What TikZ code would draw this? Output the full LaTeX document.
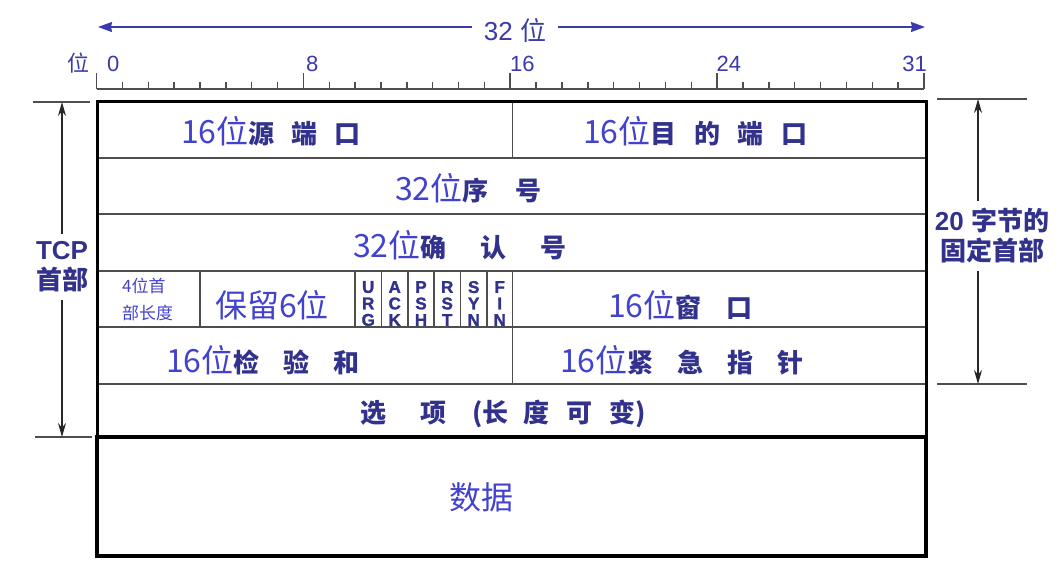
\documentclass[tikz,border=0pt]{standalone}
\usepackage{fontspec}
\setmainfont{Liberation Sans}
\newfontfamily\cjk{Noto Sans CJK SC}
\newfontfamily\heavyfont[FakeBold=1.6]{Liberation Sans Bold}
\usetikzlibrary{arrows.meta}
\definecolor{blu}{RGB}{66,66,206}
\definecolor{navy}{RGB}{50,50,140}
\definecolor{rul}{RGB}{58,58,168}
\definecolor{ln}{RGB}{78,78,78}
\newcommand\bcn[1]{{\cjk\bfseries\fontsize{26}{30}\selectfont\color{navy}#1}}
\begin{document}
\begin{tikzpicture}[x=1pt,y=-1pt,
  big/.style={font=\cjk\fontsize{32}{36}\selectfont, text=blu, inner sep=0pt, anchor=base west},
  small/.style={font=\cjk\fontsize{17}{20}\selectfont, text=blu, inner sep=0pt, anchor=base west},
  flag/.style={font=\heavyfont\fontsize{17}{16.5}\selectfont, text=navy, inner sep=0pt, align=center},
  rlab/.style={font=\fontsize{22}{24}\selectfont, text=rul, inner sep=0pt, anchor=base west},
  side/.style={font=\bfseries\fontsize{26}{30}\selectfont, text=navy, align=center, inner xsep=0pt},
  inner/.style={draw=ln, line width=1.8pt},
  frame/.style={draw=black, line width=3pt},
  dim/.style={draw=black!85, line width=1.4pt, -{Stealth[length=14pt,width=8pt]}},
  ext/.style={draw=ln, line width=1.4pt},
  topar/.style={draw=rul, line width=1.5pt, -{Stealth[length=14pt,width=10pt,inset=1pt]}}
]
\useasboundingbox (0,0) rectangle (1061,571);

% ---- top: 32 bit arrow ----
\node[font=\fontsize{26}{28}\selectfont, text=rul, inner sep=0pt] (w32) at (515,30) {32 {\cjk 位}};
\coordinate (al) at (98,27);
\coordinate (ar) at (925,27);
\draw[topar] (w32.west |- al) ++(-12,0) -- (al);
\draw[topar] (w32.east |- ar) ++(12,0) -- (ar);

% ---- ruler ----
\draw[ln, line width=1.6pt] (96.5,89) -- (924,89);
\foreach \i in {0,...,32}{
  \pgfmathsetmacro{\xx}{96.5+\i*25.86}
  \pgfmathtruncatemacro{\mm}{mod(\i,8)}
  \ifnum\mm=0
    \draw[ln, line width=1.6pt] (\xx,89) -- (\xx,73);
  \else
    \draw[ln, line width=1.4pt] (\xx,89) -- (\xx,81.5);
  \fi
}
\node[rlab] (b0) at (107,71) {0};
\node[rlab] (b8) at (306,71) {8};
\node[rlab] (b16) at (510,71) {16};
\node[rlab] (b24) at (716.5,71) {24};
\node[rlab, anchor=base east] (b31) at (927,71) {31};
\node[font=\cjk\fontsize{22}{24}\selectfont, text=rul, inner sep=0pt, anchor=base west] (wei) at (67,71) {位};

% ---- header inner lines ----
\foreach \yy in {158,214,271,327,384}{
  \draw[inner] (97,\yy) -- (926,\yy);
}
\draw[inner] (512.5,101) -- (512.5,158);
\draw[inner] (512.5,327) -- (512.5,384);
\foreach \xx in {200,355,381.5,408,434,460.5,487,512.5}{
  \draw[inner] (\xx,271) -- (\xx,327);
}
% frames
\draw[frame] (97,437) -- (97,101) -- (926,101) -- (926,437);
\draw[draw=black, line width=4pt] (97,437) rectangle (926,556);

% ---- texts ----
\node[big] (srcport) at (181,143) {16位\bcn{源\hspace{17pt}端\hspace{17pt}口}};
\node[big] (dstport) at (583,143) {16位\bcn{目\hspace{17.5pt}的\hspace{17.5pt}端\hspace{17.5pt}口}};
\node[big] (seq) at (395,200) {32位\bcn{序\hspace{26.5pt}号}};
\node[big] (ack) at (353,257) {32位\bcn{确\hspace{34pt}认\hspace{34pt}号}};
\node[small] (hl1) at (122,292) {4位首};
\node[small] (hl2) at (122,319) {部长度};
\node[big] (resv) at (215,317) {保留6位};
\node[flag] (urg) at (368.2,303.5) {U\\R\\G};
\node[flag] (fack) at (394.7,303.5) {A\\C\\K};
\node[flag] (psh) at (421,303.5) {P\\S\\H};
\node[flag] (rst) at (447.2,303.5) {R\\S\\T};
\node[flag] (syn) at (473.7,303.5) {S\\Y\\N};
\node[flag] (fin) at (499.7,303.5) {F\\I\\N};
\node[big] (win) at (608,317) {16位\bcn{窗\hspace{25pt}口}};
\node[big] (chk) at (166,372) {16位\bcn{检\hspace{24pt}验\hspace{24pt}和}};
\node[big] (urgp) at (560,372) {16位\bcn{紧\hspace{24pt}急\hspace{24pt}指\hspace{24pt}针}};
\node[inner sep=0pt, anchor=base west] (opt) at (360,422) {\bcn{选\hspace{34pt}项\hspace{26pt}(长\hspace{15pt}度\hspace{17pt}可\hspace{17pt}变)}};
\node[big] (data) at (449,509) {数据};

% ---- left dimension ----
\node[side, inner ysep=7pt] (tcp) at (62,267) {TCP\\{\cjk 首部}};
\coordinate (lt) at (62,102);
\coordinate (lb) at (62,437);
\coordinate (ltl) at (33,102);
\coordinate (ltr) at (90,102);
\coordinate (lbl) at (35,437);
\coordinate (lbr) at (92,437);
\draw[ext] (ltl) -- (ltr);
\draw[ext] (lbl) -- (lbr);
\draw[dim] (tcp.north) -- (lt);
\draw[dim] (tcp.south) -- (lb);

% ---- right dimension ----
\node[side, inner ysep=7pt] (fix) at (992,236) {20 {\cjk 字节的}\\{\cjk 固定首部}};
\coordinate (rt) at (978,99);
\coordinate (rb) at (978,384);
\coordinate (rtl) at (937,99);
\coordinate (rtr) at (1027,99);
\coordinate (rbl) at (937,384);
\coordinate (rbr) at (1027,384);
\draw[ext] (rtl) -- (rtr);
\draw[ext] (rbl) -- (rbr);
\draw[dim] (fix.north -| rt) -- (rt);
\draw[dim] (fix.south -| rb) -- (rb);
\end{tikzpicture}
\end{document}
